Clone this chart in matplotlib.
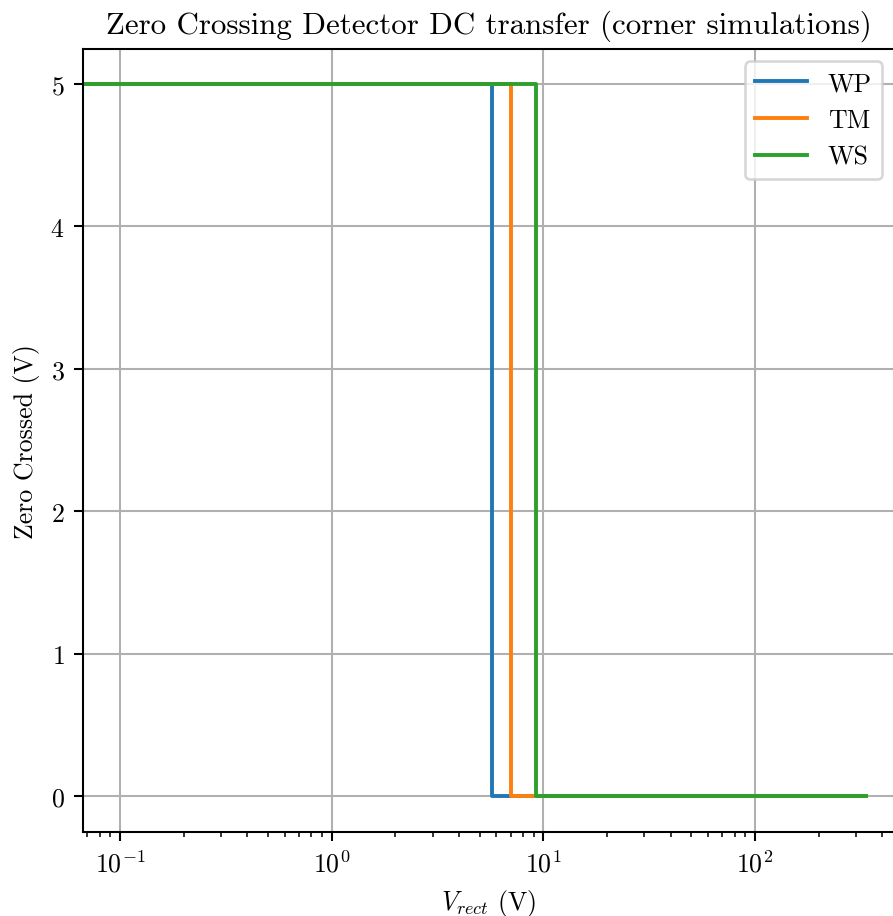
import numpy as np
import matplotlib
matplotlib.use("Agg")
import matplotlib.pyplot as plt

plt.rcParams.update({
    "font.family": "serif",
    "font.serif": ["cmr10"],
    "mathtext.fontset": "cm",
    "axes.formatter.use_mathtext": True,
    "axes.unicode_minus": False,
})

# Corner names and the rectified voltage at which the output switches low
corners = ["WP", "TM", "WS"]
switch_voltage = [5.74, 7.03, 9.24]

# DC sweep range of the rectified input and the output logic levels
v_sweep_start = 0.05
v_sweep_end = 336.0
v_out_high = 5.0
v_out_low = 0.0

y_ticks = [0, 1, 2, 3, 4, 5]

DPI = 186
fig = plt.figure(figsize=(893 / DPI, 917 / DPI), dpi=DPI)
ax = fig.add_axes([0.0926, 0.092, 0.9096, 0.854])

for name, vth in zip(corners, switch_voltage):
    x = [v_sweep_start, vth, vth, v_sweep_end]
    y = [v_out_high, v_out_high, v_out_low, v_out_low]
    ax.plot(x, y, label=name, linewidth=1.5)

ax.set_xscale("log")
ax.set_xlim(10 ** -1.1765, 10 ** 2.661)
ax.set_ylim(-0.25, 5.25)
ax.set_yticks(y_ticks)
ax.grid(True, which="major")
ax.set_title("Zero Crossing Detector DC transfer (corner simulations)")
ax.set_xlabel(r"$V_{rect}$ (V)")
ax.set_ylabel("Zero Crossed (V)")
ax.legend(loc="upper right")

fig.savefig("out.png", dpi=DPI)
